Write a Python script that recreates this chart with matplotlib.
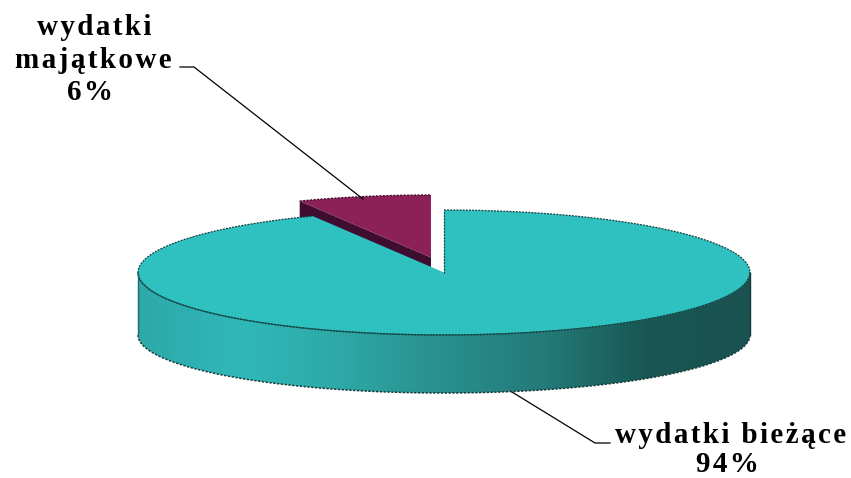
import numpy as np
import matplotlib
matplotlib.use("Agg")
import matplotlib.pyplot as plt
from matplotlib.colors import LinearSegmentedColormap
from matplotlib.patches import Polygon

# data
categories = ["wydatki bieżące", "wydatki majątkowe"]
shares = [94, 6]

# pie geometry, in image pixels
CX, CY = 444, 272.5
RX, RY = 306, 62.5
BOTTOM_RY = 58
DEPTH = 62.5
SKEW = 1.2  # fakes the perspective of the old 3d pie
EXPLODE = (-13, -15)

TEAL = "#2fc0c0"
PURPLE = "#8c2058"
PURPLE_DARK = "#3f0d30"
EDGE = "#173c3c"
WALL_COLORS = ["#2ea8a8", "#30b8b8", "#2da8a6", "#298f8d", "#237a78", "#185654", "#1a5250"]

SPACE = "\u200a"


def warp(theta):
    # theta measured clockwise from 12 o'clock
    return np.arctan2(np.sin(theta) * SKEW, np.cos(theta))


def rim(t1, t2, ry=RY, dy=0.0, n=240):
    t = warp(np.linspace(t1, t2, n))
    return np.column_stack([CX + RX * np.sin(t), CY + dy - ry * np.cos(t)])


def spaced(s):
    return SPACE.join(s)


fig = plt.figure(figsize=(8.51, 4.78), dpi=100)
ax = fig.add_axes([0, 0, 1, 1])
ax.set_xlim(0, 851)
ax.set_ylim(478, 0)
ax.axis("off")

big = 2 * np.pi * shares[0] / sum(shares)
small = 2 * np.pi * shares[1] / sum(shares)

# exploded slice: dark cut wall first, face on top, teal covers the rest
slice_rim = rim(big, big + small) + EXPLODE
apex = np.array([CX + EXPLODE[0], CY + EXPLODE[1]])
cut = np.array([slice_rim[0], apex, apex + (0, DEPTH), slice_rim[0] + (0, DEPTH)])
ax.add_patch(Polygon(cut, fc=PURPLE_DARK, ec="none", zorder=1))
ax.add_patch(Polygon(np.vstack([apex, slice_rim]), fc=PURPLE, ec="none", zorder=2))
ax.plot(slice_rim[:, 0], slice_rim[:, 1], color="#40102c", lw=1.0, ls=(0, (1.5, 1)), zorder=2)

# outer wall of the big slice with the shading running left to right
front = rim(np.pi / 2, 3 * np.pi / 2)
back = rim(np.pi / 2, 3 * np.pi / 2, ry=BOTTOM_RY, dy=DEPTH)[::-1]
wall = Polygon(np.vstack([front, back]), fc="none", ec="none", zorder=3)
ax.add_patch(wall)
cmap = LinearSegmentedColormap.from_list("wall", WALL_COLORS)
grad = ax.imshow(np.linspace(0, 1, 256)[None, :], cmap=cmap, aspect="auto",
                 extent=(CX - RX, CX + RX, CY + DEPTH + BOTTOM_RY, CY), zorder=3)
grad.set_clip_path(wall)
ax.set_xlim(0, 851)
ax.set_ylim(478, 0)

# top face
face_rim = rim(0, big)
face = np.vstack([[CX, CY], face_rim])
ax.add_patch(Polygon(face, fc=TEAL, ec="none", zorder=4))

# outlines
ax.plot(front[:, 0], front[:, 1], color="#1c6c6c", lw=1.0, zorder=5)
ax.plot(back[:, 0], back[:, 1], color=EDGE, lw=1.1, ls=(0, (1.5, 1)), zorder=5)
ax.plot(face_rim[:, 0], face_rim[:, 1], color=EDGE, lw=0.9, ls=(0, (1.5, 1)), zorder=5)
ax.plot([CX, CX], [CY, CY - RY], color=EDGE, lw=0.9, ls=(0, (1.5, 1)), zorder=5)
ax.plot([CX - RX, CX - RX], [CY, CY + DEPTH], color="#1c6c6c", lw=1.0, zorder=5)
ax.plot([CX + RX, CX + RX], [CY, CY + DEPTH], color=EDGE, lw=1.0, zorder=5)

# leader lines
ax.plot([180, 194, 363], [67, 67, 199], color="black", lw=0.9, zorder=6)
ax.plot([512, 595, 610], [392, 443, 443], color="black", lw=0.9, zorder=6)

# labels
font = dict(family="Liberation Serif", weight="bold", size=21, color="black", ha="center", va="baseline")
word1, word2 = categories[1].split()
ax.text(94, 35, spaced(word1), **font)
ax.text(93, 68, spaced(word2), **font)
ax.text(90, 100, spaced(f"{shares[1]}%"), **font)
ax.text(731, 443, spaced(categories[0]), **font)
ax.text(727, 472, spaced(f"{shares[0]}%"), **font)

fig.savefig("out.png", dpi=100)
